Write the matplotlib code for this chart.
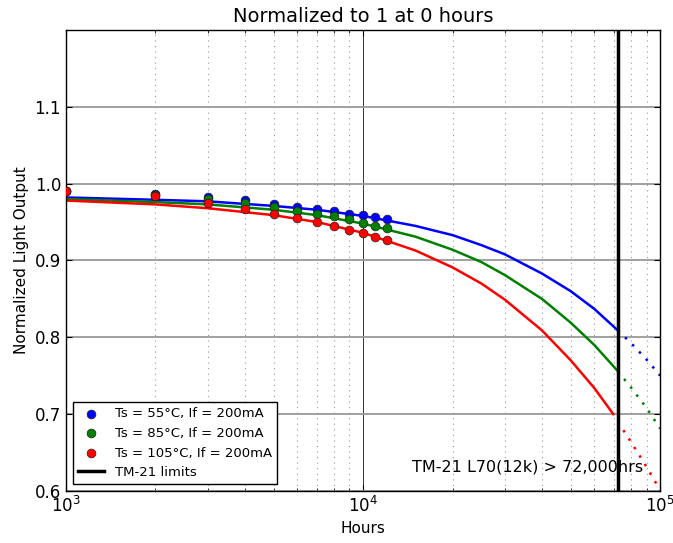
import numpy as np
import matplotlib.pyplot as plt
from matplotlib.ticker import LogLocator, NullFormatter

# measured data points
hours = [1000, 2000, 3000, 4000, 5000, 6000, 7000, 8000, 9000, 10000, 11000, 12000]
lo_55 = [0.990, 0.987, 0.983, 0.979, 0.973, 0.969, 0.967, 0.964, 0.961, 0.959, 0.957, 0.954]
lo_85 = [0.990, 0.985, 0.980, 0.975, 0.969, 0.964, 0.961, 0.958, 0.954, 0.949, 0.945, 0.942]
lo_105 = [0.990, 0.984, 0.975, 0.967, 0.960, 0.955, 0.950, 0.945, 0.940, 0.936, 0.931, 0.927]

# projected curves
fit_hours = [1000, 2000, 3000, 5000, 7000, 10000, 15000, 20000, 25000, 30000, 40000, 50000, 60000, 72000]
fit_55 = [0.982, 0.979, 0.977, 0.971, 0.966, 0.958, 0.945, 0.933, 0.920, 0.908, 0.883, 0.860, 0.837, 0.809]
fit_85 = [0.980, 0.976, 0.973, 0.966, 0.959, 0.948, 0.931, 0.914, 0.898, 0.881, 0.850, 0.819, 0.790, 0.756]
fit_105_hours = [1000, 2000, 3000, 5000, 7000, 10000, 15000, 20000, 25000, 30000, 40000, 50000, 60000, 69500]
fit_105 = [0.978, 0.973, 0.968, 0.959, 0.950, 0.936, 0.913, 0.891, 0.870, 0.849, 0.809, 0.770, 0.734, 0.700]

ext_hours = [72000, 80000, 90000, 100000]
ext_55 = [0.809, 0.792, 0.771, 0.750]
ext_85 = [0.756, 0.734, 0.708, 0.681]
ext_105 = [0.690, 0.663, 0.631, 0.601]

tm21_limit = 72000

fig = plt.figure(figsize=(6.73, 5.43), dpi=100)
ax = fig.add_axes([0.098, 0.0958, 0.883, 0.849])

ax.plot(fit_hours, fit_55, color='b', lw=1.8)
ax.plot(fit_hours, fit_85, color='g', lw=1.8)
ax.plot(fit_105_hours, fit_105, color='r', lw=1.8)
ax.plot(ext_hours, ext_55, color='b', lw=1.8, ls=(0, (1, 3)))
ax.plot(ext_hours, ext_85, color='g', lw=1.8, ls=(0, (1, 3)))
ax.plot(ext_hours, ext_105, color='r', lw=1.8, ls=(0, (1, 3)))

ax.scatter(hours, lo_55, s=40, c='b', edgecolors='#202020', lw=0.5, zorder=3, label='Ts = 55°C, If = 200mA')
ax.scatter(hours, lo_85, s=40, c='g', edgecolors='#202020', lw=0.5, zorder=3, label='Ts = 85°C, If = 200mA')
ax.scatter(hours, lo_105, s=40, c='r', edgecolors='#202020', lw=0.5, zorder=3, label='Ts = 105°C, If = 200mA')
ax.axvline(tm21_limit, color='k', lw=2.5, label='TM-21 limits')

ax.set_xscale('log')
ax.set_xlim(1000, 100000)
ax.set_ylim(0.6, 1.2)
ax.set_yticks([0.6, 0.7, 0.8, 0.9, 1.0, 1.1])
ax.xaxis.set_minor_locator(LogLocator(subs=np.arange(2, 10)))
ax.xaxis.set_minor_formatter(NullFormatter())

ax.grid(which='major', axis='y', color='#999999', lw=1.3, ls='-')
ax.grid(which='major', axis='x', color='#333333', lw=0.7, ls='-')
ax.grid(which='minor', axis='x', color='#999999', lw=0.8, ls=(0, (1, 4)))
ax.set_axisbelow(True)

ax.tick_params(which='both', direction='in', top=True, right=True, labelsize=12)
ax.tick_params(which='major', length=4)
ax.tick_params(which='minor', length=2)
for sp in ax.spines.values():
    sp.set_linewidth(1.0)

ax.set_title('Normalized to 1 at 0 hours', fontsize=14)
ax.set_xlabel('Hours', fontsize=11)
ax.set_ylabel('Normalized Light Output', fontsize=11)

ax.text(0.971, 0.035, 'TM-21 L70(12k) > 72,000hrs', transform=ax.transAxes,
        ha='right', va='bottom', fontsize=11.5)

leg = ax.legend(loc='lower left', fontsize=9.5, fancybox=False, framealpha=1,
                edgecolor='k', scatterpoints=1, borderaxespad=0.5, handlelength=2)
leg.get_frame().set_linewidth(1.0)

fig.savefig('out.png', dpi=100)
